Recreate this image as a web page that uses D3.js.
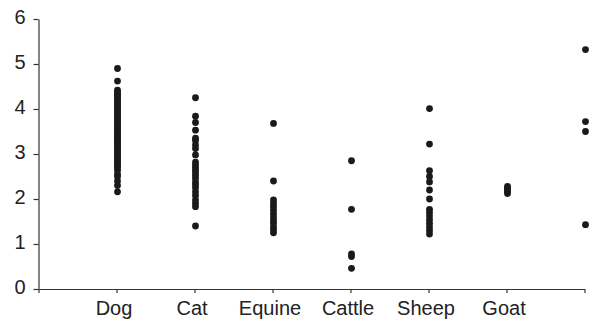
<html>
    <head>
        <script src="https://d3js.org/d3.v7.min.js"></script>
        <style>
            body{ margin:0; background:#fff; }
            .axis text{ font-family:"Liberation Sans", Arial, sans-serif; font-size:20px; fill:#222; }
            .axis path, .axis line{ stroke:#333; stroke-width:1.2; }
        </style>
    </head>
    <body>
        <svg id="svg" width="592" height="333"></svg>
        <script>
            // categories along the x axis (last group has no label)
            var categories = ["Dog", "Cat", "Equine", "Cattle", "Sheep", "Goat", ""];
            var yTicks = [0, 1, 2, 3, 4, 5, 6];

            // values, one array per group
            var dog = [4.9, 4.62, 4.42, 4.38, 4.34, 4.3, 4.26, 4.22, 4.18, 4.14, 4.1, 4.06, 4.02, 3.98, 3.94,
                       3.9, 3.86, 3.82, 3.78, 3.74, 3.7, 3.66, 3.62, 3.58, 3.54, 3.5, 3.46, 3.42, 3.38, 3.34,
                       3.3, 3.26, 3.22, 3.18, 3.14, 3.1, 3.06, 3.02, 2.98, 2.94, 2.9, 2.86, 2.82, 2.78, 2.74,
                       2.7, 2.64, 2.55, 2.5, 2.4, 2.3, 2.16];
            var cat = [4.25, 3.84, 3.7, 3.53, 3.35, 3.3, 3.2, 3.12, 2.98, 2.82, 2.76, 2.7, 2.64, 2.58, 2.52,
                       2.46, 2.38, 2.32, 2.25, 2.16, 2.08, 1.98, 1.9, 1.83, 1.4];
            var equine = [3.68, 2.4, 1.98, 1.9, 1.83, 1.76, 1.68, 1.6, 1.53, 1.46, 1.38, 1.32, 1.25];
            var cattle = [2.85, 1.77, 0.78, 0.72, 0.46];
            var sheep = [4.01, 3.22, 2.63, 2.5, 2.38, 2.2, 2.0, 1.77, 1.7, 1.62, 1.54, 1.46, 1.38, 1.3, 1.22];
            var goat = [2.28, 2.24, 2.2, 2.16, 2.12];
            var other = [5.32, 3.72, 3.5, 1.43];

            var groups = [dog, cat, equine, cattle, sheep, goat, other];

            var svg = d3.select("svg");
            var x = d3.scaleLinear().domain([0, 7]).range([38.5, 584.5]);
            var y = d3.scaleLinear().domain([0, 6]).range([289, 19]);

            var gx = svg.append("g").attr("class", "axis")
                .attr("transform", "translate(0," + y(0) + ")")
                .call(d3.axisBottom(x)
                    .tickValues([0, 1, 2, 3, 4, 5, 6, 7])
                    .tickSize(4)
                    .tickSizeOuter(0)
                    .tickFormat(function(d){ return d > 0 ? categories[d - 1] : ""; }));
            gx.selectAll("text").attr("y", 12).attr("dx", -3);

            var gy = svg.append("g").attr("class", "axis")
                .attr("transform", "translate(" + x(0) + ",0)")
                .call(d3.axisLeft(y)
                    .tickValues(yTicks)
                    .tickSize(5)
                    .tickSizeOuter(0)
                    .tickFormat(d3.format("d")));
            gy.selectAll("text").attr("x", -13).attr("dy", "0.2em");

            var dots = svg.append("g");
            groups.forEach(function(vals, i){
                dots.selectAll(null).data(vals).enter().append("circle")
                    .attr("cx", x(i + 1) + 1)
                    .attr("cy", function(d){ return y(d); })
                    .attr("r", 3.4)
                    .attr("fill", "#1a1a1a");
            });
        </script>
    </body>
</html>
